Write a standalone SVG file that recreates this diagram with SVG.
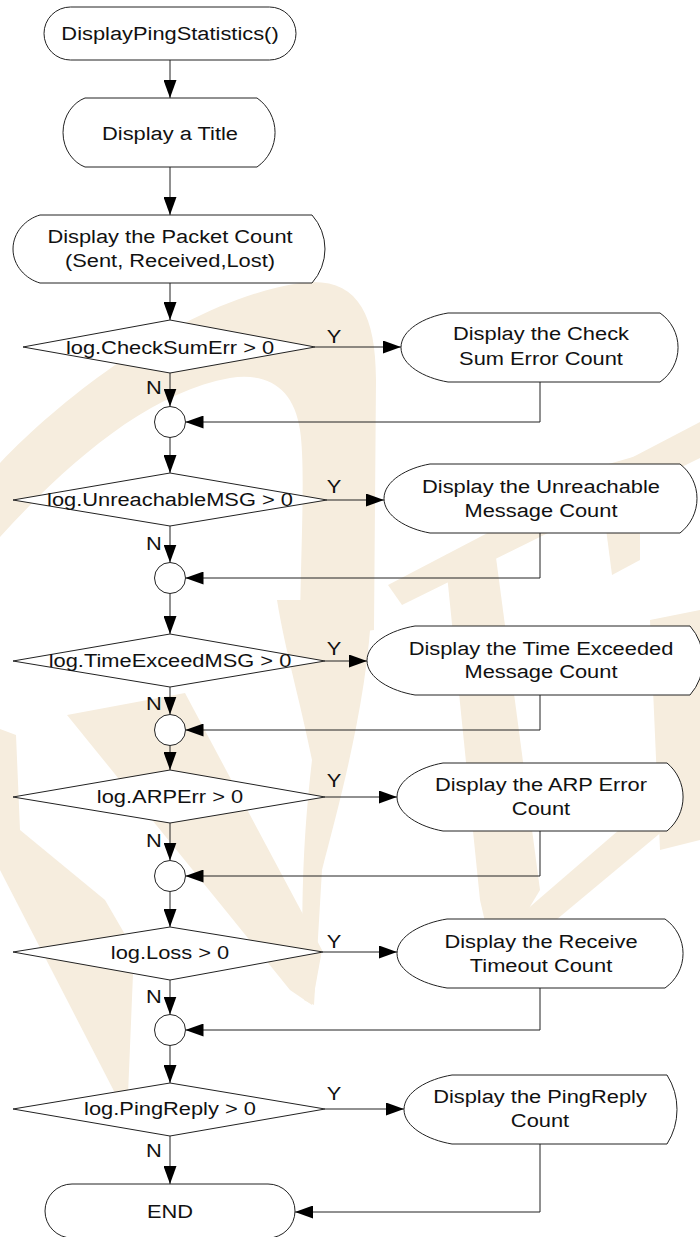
<svg xmlns="http://www.w3.org/2000/svg" width="700" height="1237" viewBox="0 0 700 1237">
<style>
.wm{fill:#F6EDDE;stroke:none}
.sh{fill:#fff;stroke:#222;stroke-width:1}
.ln{fill:none;stroke:#222;stroke-width:1}
.ar{marker-end:url(#ah)}
text{font-family:"Liberation Sans",Arial,Helvetica,sans-serif;font-size:19px;fill:#111;text-anchor:middle}
</style>
<defs>
<marker id="ah" markerWidth="18" markerHeight="13" refX="18" refY="6.5" orient="auto" markerUnits="userSpaceOnUse"><path d="M0,0 L18,6.5 L0,13 Z" fill="#000"/></marker>
</defs>
<rect width="700" height="1237" fill="#fff"/>
<g id="watermark">
<path class="wm" d="M0,463 C70,390 190,300 300,283 C355,276 376,310 376,380 L374,630 L300,640 C300,560 306,470 300,430 C294,390 270,372 230,378 C150,392 70,460 0,537 Z"/>
<path class="wm" d="M277,600 L372,600 C368,700 340,800 322,870 L314,1005 L304,1000 C300,900 304,830 312,760 C300,700 285,650 277,600 Z"/>
<path class="wm" d="M67,715 L185,693 L322,950 L312,1005 L290,990 Z"/>
<path class="wm" d="M0,729 L16,735 L20,830 L105,900 L134,950 L128,1095 L116,1095 L0,870 Z"/>
<path class="wm" d="M700,422 L700,458 L402,605 L388,585 Z"/>
<path class="wm" d="M598,467 L640,455 L640,560 L612,575 Z"/>
<path class="wm" d="M445,555 L495,550 L540,890 L495,965 L480,900 Z"/>
<path class="wm" d="M700,760 L700,800 L490,975 L480,950 Z"/>
<path class="wm" d="M650,620 L700,610 L700,840 L660,850 Z"/>
</g>
<g id="connectors">
<line class="ln ar" x1="170" y1="60" x2="170" y2="98"/>
<line class="ln ar" x1="170" y1="167" x2="170" y2="215"/>
<line class="ln ar" x1="170" y1="283" x2="170" y2="320"/>
<line class="ln ar" x1="170" y1="373" x2="170" y2="406.5"/>
<line class="ln ar" x1="170" y1="437.5" x2="170" y2="473"/>
<line class="ln ar" x1="170" y1="526" x2="170" y2="562.5"/>
<line class="ln ar" x1="170" y1="593.5" x2="170" y2="634"/>
<line class="ln ar" x1="170" y1="687" x2="170" y2="714.5"/>
<line class="ln ar" x1="170" y1="745.5" x2="170" y2="770"/>
<line class="ln ar" x1="170" y1="823" x2="170" y2="860.5"/>
<line class="ln ar" x1="170" y1="891.5" x2="170" y2="927"/>
<line class="ln ar" x1="170" y1="980" x2="170" y2="1014.5"/>
<line class="ln ar" x1="170" y1="1045.5" x2="170" y2="1083"/>
<line class="ln ar" x1="170" y1="1136" x2="170" y2="1184"/>
<line class="ln ar" x1="315" y1="347" x2="401" y2="347"/>
<line class="ln ar" x1="327" y1="500" x2="384" y2="500"/>
<line class="ln ar" x1="325" y1="661" x2="367" y2="661"/>
<line class="ln ar" x1="325" y1="797" x2="397" y2="797"/>
<line class="ln ar" x1="323" y1="952" x2="397" y2="952"/>
<line class="ln ar" x1="325" y1="1109" x2="404" y2="1109"/>
<polyline class="ln ar" points="540,382 540,422 185.5,422"/>
<polyline class="ln ar" points="540,533 540,578 185.5,578"/>
<polyline class="ln ar" points="540,695 540,730 185.5,730"/>
<polyline class="ln ar" points="540,831 540,876 185.5,876"/>
<polyline class="ln ar" points="540,988 540,1030 185.5,1030"/>
<polyline class="ln ar" points="540,1144 540,1212 295,1212"/>
<text transform="translate(334,343) scale(1.15,1)">Y</text>
<text transform="translate(334,493) scale(1.15,1)">Y</text>
<text transform="translate(334,655) scale(1.15,1)">Y</text>
<text transform="translate(334,787) scale(1.15,1)">Y</text>
<text transform="translate(334,948) scale(1.15,1)">Y</text>
<text transform="translate(334,1100) scale(1.15,1)">Y</text>
<text transform="translate(154,394) scale(1.15,1)">N</text>
<text transform="translate(154,550) scale(1.15,1)">N</text>
<text transform="translate(154,710) scale(1.15,1)">N</text>
<text transform="translate(154,847) scale(1.15,1)">N</text>
<text transform="translate(154,1003) scale(1.15,1)">N</text>
<text transform="translate(154,1157) scale(1.15,1)">N</text>
</g>
<g id="start">
<rect class="sh" x="44" y="7" width="252" height="53" rx="26.5"/>
<text transform="translate(170,40) scale(1.15,1)">DisplayPingStatistics()</text>
</g>
<g id="title">
<path class="sh" d="M85,98 L257,98 A42,42 0 0 1 257,167 L85,167 C74,163 63,150 63,132.5 C63,115 74,102 85,98 Z"/>
<text transform="translate(170,140) scale(1.15,1)">Display a Title</text>
</g>
<g id="packet">
<path class="sh" d="M40,215 L312,215 A51,51 0 0 1 312,283 L40,283 C26,279 13,266 13,249 C13,232 26,219 40,215 Z"/>
<text transform="translate(170,243) scale(1.15,1)">Display the Packet Count</text>
<text transform="translate(170,267) scale(1.15,1)">(Sent, Received,Lost)</text>
</g>
<g id="d1">
<polygon class="sh" points="170,320 315,347 170,373 23,347"/>
<text transform="translate(170,354) scale(1.15,1)">log.CheckSumErr &gt; 0</text>
</g>
<g id="b1">
<path class="sh" d="M448,313 L660,313 A42,42 0 0 1 660,382 L448,382 C424,378 401,365 401,347.5 C401,330 424,317 448,313 Z"/>
<text transform="translate(541,340) scale(1.15,1)">Display the Check</text>
<text transform="translate(541,365) scale(1.15,1)">Sum Error Count</text>
</g>
<g id="c1"><circle class="sh" cx="170" cy="422" r="15.5"/></g>
<g id="d2">
<polygon class="sh" points="170,473 327,500 170,526 13,500"/>
<text transform="translate(170,506) scale(1.15,1)">log.UnreachableMSG &gt; 0</text>
</g>
<g id="b2">
<path class="sh" d="M430,464 L680,464 A43.5,43.5 0 0 1 680,533 L430,533 C407,529 384,516 384,498.5 C384,481 407,468 430,464 Z"/>
<text transform="translate(541,493) scale(1.15,1)">Display the Unreachable</text>
<text transform="translate(541,517) scale(1.15,1)">Message Count</text>
</g>
<g id="c2"><circle class="sh" cx="170" cy="578" r="15.5"/></g>
<g id="d3">
<polygon class="sh" points="170,634 325,661 170,687 13,661"/>
<text transform="translate(170,667) scale(1.15,1)">log.TimeExceedMSG &gt; 0</text>
</g>
<g id="b3">
<path class="sh" d="M415,626 L690,626 A52,52 0 0 1 690,695 L415,695 C391,691 367,678 367,660.5 C367,643 391,630 415,626 Z"/>
<text transform="translate(541,655) scale(1.15,1)">Display the Time Exceeded</text>
<text transform="translate(541,678) scale(1.15,1)">Message Count</text>
</g>
<g id="c3"><circle class="sh" cx="170" cy="730" r="15.5"/></g>
<g id="d4">
<polygon class="sh" points="170,770 325,797 170,823 13,797"/>
<text transform="translate(170,803) scale(1.15,1)">log.ARPErr &gt; 0</text>
</g>
<g id="b4">
<path class="sh" d="M443,763 L667,763 A44,44 0 0 1 667,831 L443,831 C420,827 397,814 397,797 C397,780 420,767 443,763 Z"/>
<text transform="translate(541,791) scale(1.15,1)">Display the ARP Error</text>
<text transform="translate(541,815) scale(1.15,1)">Count</text>
</g>
<g id="c4"><circle class="sh" cx="170" cy="876" r="15.5"/></g>
<g id="d5">
<polygon class="sh" points="170,927 323,952 170,980 13,952"/>
<text transform="translate(170,959) scale(1.15,1)">log.Loss &gt; 0</text>
</g>
<g id="b5">
<path class="sh" d="M447,919 L665,919 A42,42 0 0 1 665,988 L447,988 C422,984 397,971 397,953.5 C397,936 422,923 447,919 Z"/>
<text transform="translate(541,948) scale(1.15,1)">Display the Receive</text>
<text transform="translate(541,972) scale(1.15,1)">Timeout Count</text>
</g>
<g id="c5"><circle class="sh" cx="170" cy="1030" r="15.5"/></g>
<g id="d6">
<polygon class="sh" points="170,1083 325,1109 170,1136 13,1109"/>
<text transform="translate(170,1115) scale(1.15,1)">log.PingReply &gt; 0</text>
</g>
<g id="b6">
<path class="sh" d="M452,1075 L667,1075 A64.5,64.5 0 0 1 667,1144 L452,1144 C428,1140 404,1127 404,1109.5 C404,1092 428,1079 452,1075 Z"/>
<text transform="translate(540,1103) scale(1.15,1)">Display the PingReply</text>
<text transform="translate(540,1127) scale(1.15,1)">Count</text>
</g>
<g id="end">
<rect class="sh" x="45" y="1184" width="250" height="54" rx="27"/>
<text transform="translate(170,1218) scale(1.15,1)">END</text>
</g>
</svg>
